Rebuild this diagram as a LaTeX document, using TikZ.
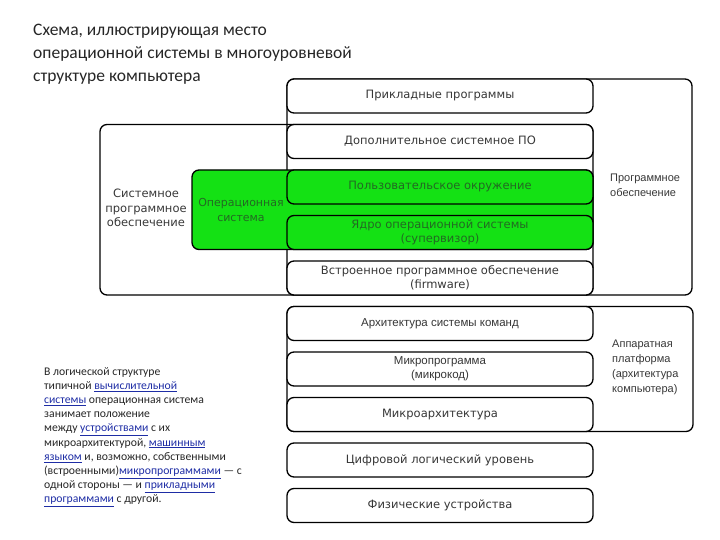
\documentclass[tikz,border=0pt]{standalone}
\usepackage{fontspec}
\setmainfont{Carlito}
\newfontfamily\boxfont{DejaVu Sans}
\newfontfamily\narrowfont{Liberation Sans}
\usepackage{tikz}
\usetikzlibrary{fit,positioning}
\usetikzlibrary{backgrounds}
\definecolor{osgreen}{RGB}{20,225,20}
\definecolor{osdark}{RGB}{35,105,35}
\definecolor{boxgray}{RGB}{55,55,55}
\definecolor{linkblue}{RGB}{30,45,165}
\newcommand{\lnk}[1]{\textcolor{linkblue}{\underline{#1}}}

\begin{document}
\begin{tikzpicture}[x=1pt,y=-1pt,
    tier/.style={draw, line width=1.3pt, rounded corners=7pt, fill=white,
      minimum width=306pt, minimum height=34pt, inner sep=0pt, outer sep=0pt,
      align=center, text=boxgray, font=\boxfont\fontsize{11.5}{14}\selectfont},
    greentier/.style={fill=osgreen, text=osdark},
    narrowtier/.style={font=\narrowfont\fontsize{11.5}{14}\selectfont},
    frame/.style={draw, line width=1.3pt, rounded corners=7pt, inner sep=0pt},
    sidelbl/.style={align=left, inner sep=0pt, text=boxgray,
      font=\narrowfont\fontsize{11}{15}\selectfont}]
    \useasboundingbox (0,0) rectangle (720,540);
    % title and note
    \node[anchor=north west, align=left, inner sep=0pt, text=black!85,
      font=\fontsize{17.5}{23}\selectfont] (title) at (33,24)
      {Схема, иллюстрирующая место\\операционной системы в многоуровневой\\структуре компьютера};
    \node[anchor=north west, align=left, inner sep=0pt, text=black!85,
      font=\fontsize{11.7}{14.2}\selectfont] (note) at (44,367)
      {В логической структуре\\
       типичной \lnk{вычислительной}\\
       \lnk{системы} операционная система\\
       занимает положение\\
       между \lnk{устройствами} с их\\
       микроархитектурой, \lnk{машинным}\\
       \lnk{языком} и, возможно, собственными\\
       (встроенными)\lnk{микропрограммами} — с\\
       одной стороны — и \lnk{прикладными}\\
       \lnk{программами} с другой.};
    % levels
    \node[tier] (prikl) at (440,96) {Прикладные программы};
    \node[tier, below=11.5pt of prikl] (dop) {Дополнительное системное ПО};
    \node[tier, greentier, below=11.5pt of dop] (polz) {Пользовательское окружение};
    \node[tier, greentier, below=11.5pt of polz] (yadro) {Ядро операционной системы\\(супервизор)};
    \node[tier, below=11.5pt of yadro] (vstr) {Встроенное программное обеспечение\\(firmware)};
    \node[tier, narrowtier, below=11.5pt of vstr] (arch) {Архитектура системы команд};
    \node[tier, narrowtier, below=11.5pt of arch] (mprog) {Микропрограмма\\(микрокод)};
    \node[tier, below=11.5pt of mprog] (march) {Микроархитектура};
    \node[tier, below=11.5pt of march] (cifr) {Цифровой логический уровень};
    \node[tier, below=11.5pt of cifr] (fiz) {Физические устройства};
    % frames
    \coordinate (softR) at (692,186);
    \coordinate (sysL) at (100,210);
    \coordinate (osL) at (192,210);
    \coordinate (hwR) at (693,370);
    \begin{scope}[on background layer]
        \node[frame, fit=(prikl) (vstr) (softR)] (soft) {};
        \node[frame, fit=(dop) (vstr) (sysL)] (sys) {};
        \node[frame, fill=osgreen, fit=(polz) (yadro) (osL)] (os) {};
        \node[frame, fit=(arch) (march) (hwR)] (hw) {};
    \end{scope}
    % labels
    \node[sidelbl, anchor=west] (softlbl) at (610,185) {Программное\\обеспечение};
    \node[sidelbl, anchor=west] (hwlbl) at (612,367.5) {Аппаратная\\платформа\\(архитектура\\компьютера)};
    \node[align=center, inner sep=0pt, text=boxgray,
      font=\boxfont\fontsize{11.5}{14.5}\selectfont] (syslbl) at (146,208)
      {Системное\\программное\\обеспечение};
    \node[align=center, inner sep=0pt, text=osdark,
      font=\boxfont\fontsize{11}{14.5}\selectfont] (oslbl) at (241,210)
      {Операционная\\система};
\end{tikzpicture}
\end{document}
